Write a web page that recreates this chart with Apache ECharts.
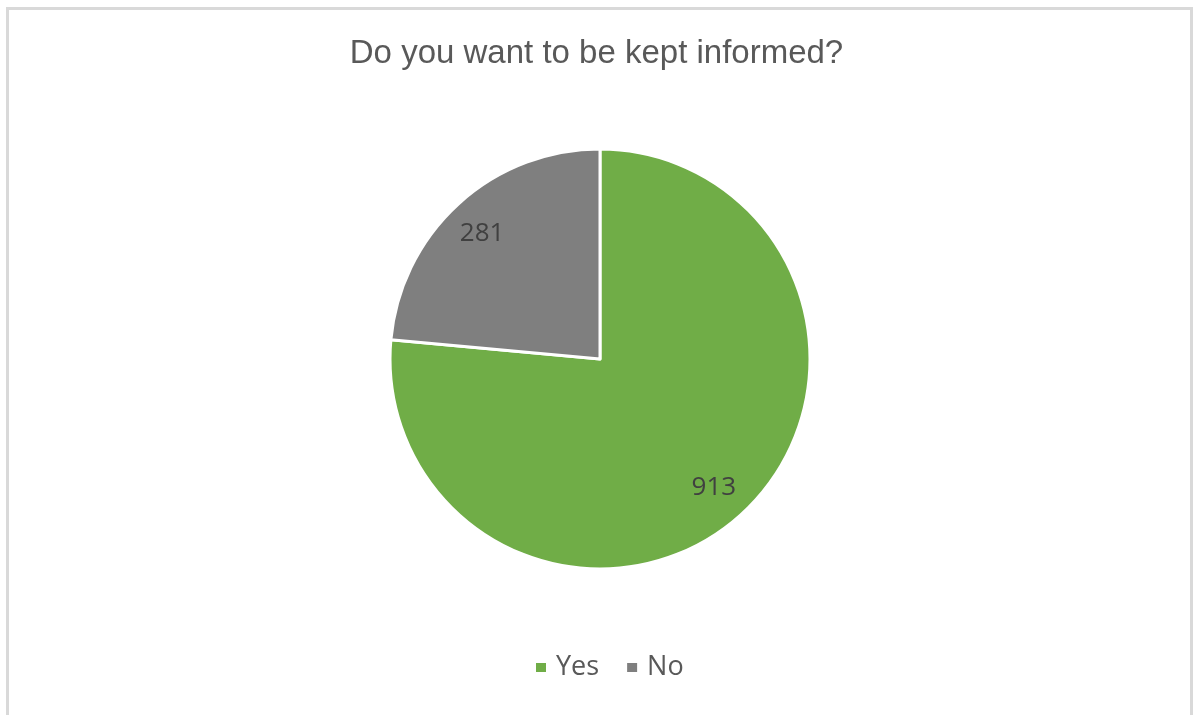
<!DOCTYPE html>
<html>
<head>
<meta charset="utf-8">
<script src="https://cdn.jsdelivr.net/npm/echarts@6/dist/echarts.min.js"></script>
<style>
html,body{margin:0;padding:0;background:#fff;}
#chart{width:1193px;height:715px;}
</style>
</head>
<body>
<div id="chart"></div>
<script>
const titleText = 'Do you want to be kept informed?';
const categories = ['Yes', 'No'];
const values = [913, 281];
const colors = ['#70AD47', '#7F7F7F'];

const pieData = categories.map((c, i) => ({ name: c, value: values[i], itemStyle: { color: colors[i] } }));
const labelData = categories.map((c, i) => ({ name: c, value: values[i] }));

const chart = echarts.init(document.getElementById('chart'), null, { renderer: 'canvas' });
chart.setOption({
  animation: false,
  backgroundColor: '#fff',
  title: {
    text: titleText,
    left: 'center',
    top: 32,
    textStyle: { fontFamily: 'Liberation Sans, Arial, sans-serif', fontSize: 33, fontWeight: 'normal', color: '#595959' }
  },
  legend: {
    data: categories,
    bottom: 29,
    left: 529,
    icon: 'rect',
    itemWidth: 12,
    itemHeight: 11,
    itemGap: 26,
    textStyle: { fontFamily: 'Open Sans, Noto Sans, sans-serif', fontSize: 27, color: '#595959', padding: [0, 0, 0, 4] }
  },
  graphic: [{
    type: 'rect',
    silent: true,
    shape: { x: 7.5, y: 8.5, width: 1184, height: 730 },
    style: { fill: 'none', stroke: '#d9d9d9', lineWidth: 3 }
  }],
  series: [
    {
      type: 'pie',
      center: [600, 359],
      radius: [0, 210],
      startAngle: 90,
      clockwise: true,
      data: pieData,
      itemStyle: { borderColor: '#fff', borderWidth: 3 },
      label: { show: false },
      labelLine: { show: false },
      emphasis: { disabled: true }
    },
    {
      type: 'pie',
      center: [600, 359],
      radius: [0, 338],
      startAngle: 90,
      clockwise: true,
      silent: true,
      data: labelData,
      itemStyle: { color: 'rgba(0,0,0,0)', borderWidth: 0 },
      label: {
        show: true,
        position: 'inside',
        formatter: '{c}',
        offset: [-2, 2],
        fontFamily: 'Open Sans, Noto Sans, sans-serif',
        fontSize: 26,
        color: '#404040'
      },
      labelLine: { show: false },
      emphasis: { disabled: true },
      z: 3
    }
  ]
});
</script>
</body>
</html>
